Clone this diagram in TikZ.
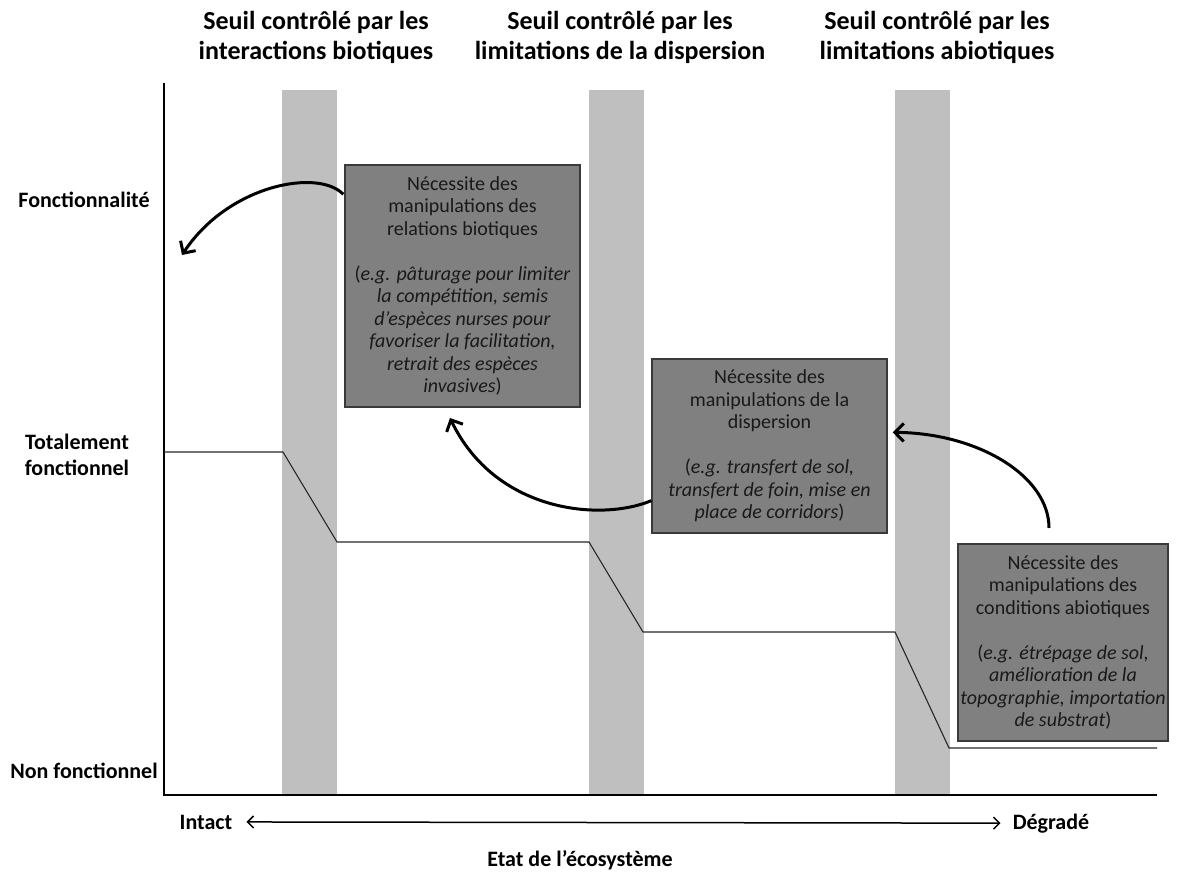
\documentclass[tikz,border=0pt]{standalone}
\usepackage{fontspec}
\setmainfont{Carlito}
\usetikzlibrary{arrows.meta,calc}
\definecolor{barcol}{HTML}{BFBFBF}
\definecolor{boxfill}{HTML}{808080}
\definecolor{boxline}{HTML}{3A3A3A}
\begin{document}
\begin{tikzpicture}[x=1pt,y=-1pt,
  titletext/.style={font=\bfseries\fontsize{26}{30}\selectfont, align=center, inner sep=0},
  axlabel/.style={font=\bfseries\fontsize{22}{26}\selectfont, align=center, inner sep=0},
  infobox/.style={draw=boxline, line width=1.3pt, fill=boxfill, align=center,
    font=\fontsize{20}{22.5}\selectfont, inner sep=0, text=black!90},
  thresholdbar/.style={fill=barcol},
  axisline/.style={line width=2pt, black},
  stepline/.style={line width=1.1pt, black!85},
  bigarrow/.style={line width=3pt, -{Straight Barb[length=9pt,width=18pt]}},
  statearrow/.style={line width=1.5pt, {Straight Barb[length=6pt,width=12pt]}-{Straight Barb[length=6pt,width=12pt]}}
]
\useasboundingbox (0,0) rectangle (1178,873);

% threshold bars
\fill[thresholdbar] (282,90) rectangle (337,795);
\fill[thresholdbar] (589,90) rectangle (644,795);
\fill[thresholdbar] (895,90) rectangle (950,795);

% titles
\node[titletext] (t1) at (316,37) {Seuil contrôlé par les\\interactions biotiques};
\node[titletext] (t2) at (620,37) {Seuil contrôlé par les\\limitations de la dispersion};
\node[titletext] (t3) at (937,37) {Seuil contrôlé par les\\limitations abiotiques};

% axes
\draw[axisline] (164,83) -- (164,795) -- (1157,795);

% y labels
\node[axlabel] (fonc) at (84,200) {Fonctionnalité};
\node[axlabel] (tot) at (77,455) {Totalement\\fonctionnel};
\node[axlabel] (non) at (84,771) {Non fonctionnel};

% step line
\draw[stepline] (164,452) -- (283,452) -- (337,542) -- (589,542) -- (643,632) -- (895,632) -- (949,748) -- (1157,748);

% boxes
\node[infobox, minimum width=235pt, minimum height=242pt] (b1) at (462.5,286)
  {Nécessite des\\manipulations des\\relations biotiques\\[22.5pt]
   (\textit{e.g. pâturage pour limiter}\\\textit{la compétition, semis}\\\textit{d’espèces nurses pour}\\\textit{favoriser la facilitation,}\\\textit{retrait des espèces}\\\textit{invasives})};
\node[infobox, minimum width=235pt, minimum height=174pt] (b2) at (769.5,446)
  {Nécessite des\\manipulations de la\\dispersion\\[22.5pt]
   (\textit{e.g. transfert de sol,}\\\textit{transfert de foin, mise en}\\\textit{place de corridors})};
\node[infobox, minimum width=210pt, minimum height=197pt] (b3) at (1063,642.5)
  {Nécessite des\\manipulations des\\conditions abiotiques\\[22.5pt]
   (\textit{e.g. étrépage de sol,}\\\textit{amélioration de la}\\\textit{topographie, importation}\\\textit{de substrat})};

% curved arrows
\coordinate (a1end) at (182,255);
\coordinate (a2end) at (450,418);
\coordinate (a3start) at (1049,528);
\draw[bigarrow] ($(b1.north west)+(-1,30)$) .. controls (318,168) and (228,185) .. (a1end);
\draw[bigarrow] ($(b2.south west)+(0,-33)$) .. controls (600,522) and (495,512) .. (a2end);
\draw[bigarrow] (a3start) .. controls (1049,476) and (978,433) .. ($(b2.north east)+(5,74)$);

% bottom labels
\node[axlabel, anchor=base] (intact) at (206,829) {Intact};
\node[axlabel, anchor=base] (degr) at (1051,829) {Dégradé};
\draw[statearrow] ($(intact.east)+(14,0)$) -- ($(degr.west)+(-12,0)$);
\node[axlabel] (etat) at (580,860) {Etat de l’écosystème};
\end{tikzpicture}
\end{document}
